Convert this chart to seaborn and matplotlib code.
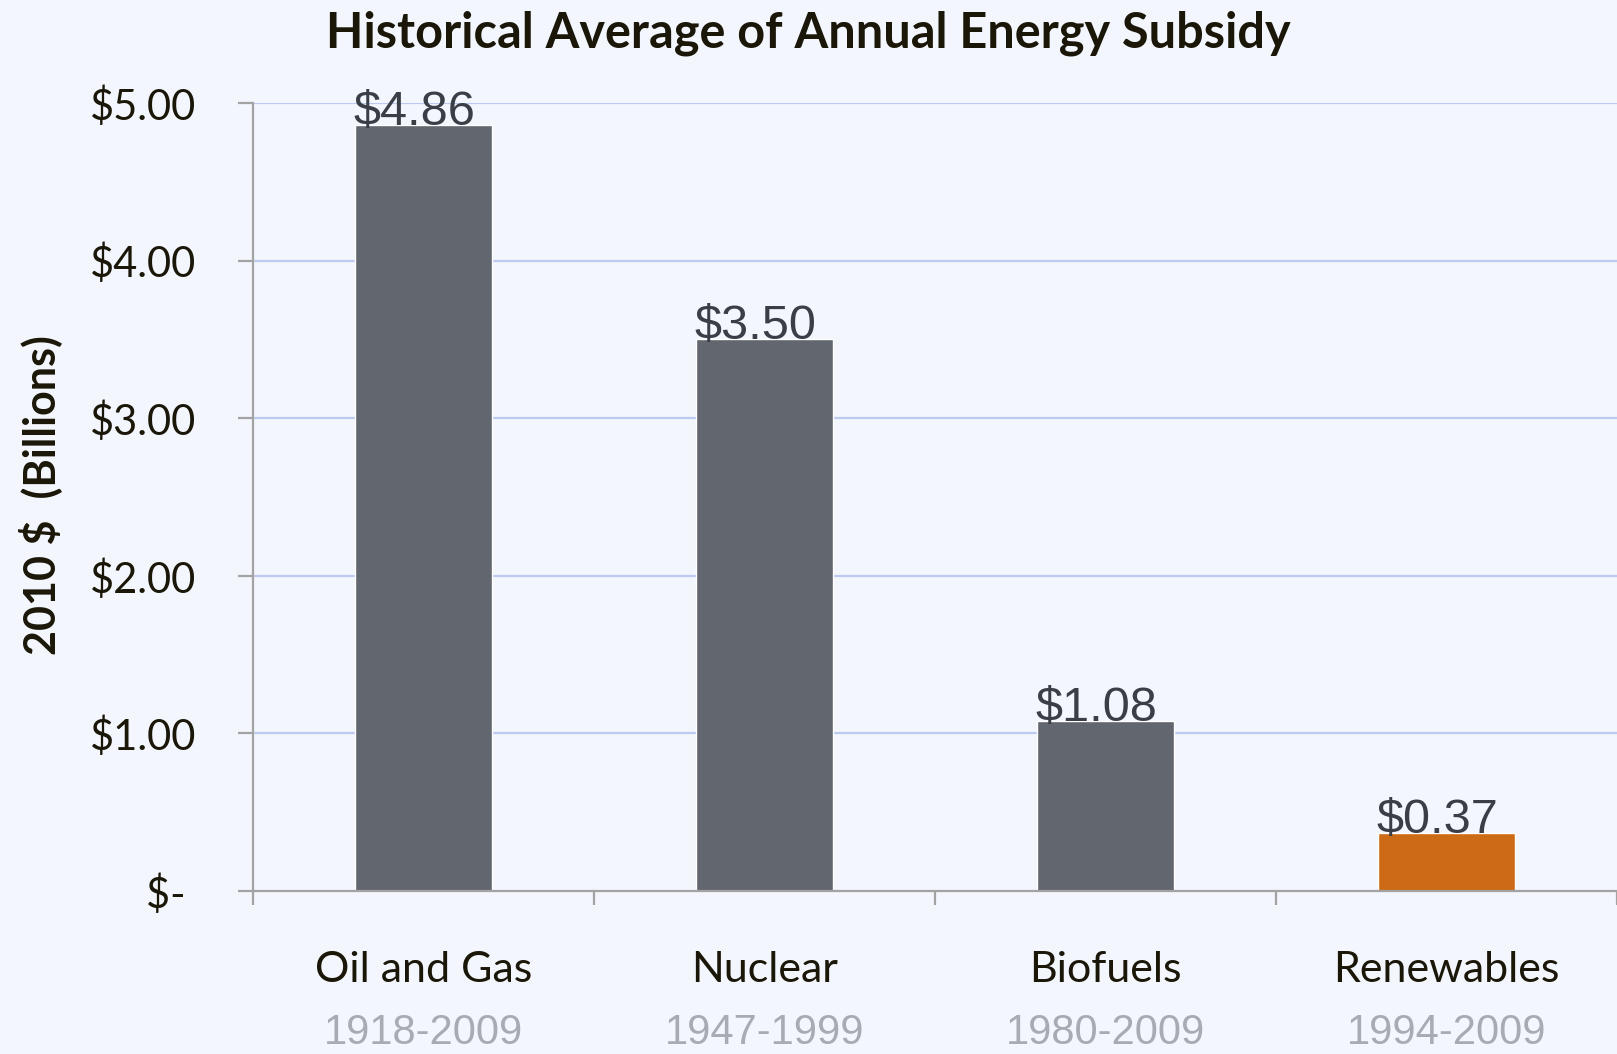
import matplotlib
matplotlib.use("Agg")
import matplotlib.pyplot as plt
import seaborn as sns
import pandas as pd
from matplotlib.ticker import FixedLocator
import matplotlib.transforms as mtransforms

categories = ["Oil and Gas", "Nuclear", "Biofuels", "Renewables"]
periods = ["1918-2009", "1947-1999", "1980-2009", "1994-2009"]
values = [4.86, 3.50, 1.08, 0.37]
value_labels = ["$4.86", "$3.50", "$1.08", "$0.37"]
bar_colors = ["#62666e", "#62666e", "#62666e", "#cc6a16"]
y_ticks = [0, 1, 2, 3, 4, 5]
y_tick_labels = ["$- ", "$1.00", "$2.00", "$3.00", "$4.00", "$5.00"]

sns.set_theme(style="white")
plt.rcParams['font.family'] = ['Lato', 'DejaVu Sans']

bg = "#f3f6fd"
fig = plt.figure(figsize=(16.17, 10.54), dpi=100, facecolor=bg)
ax = fig.add_axes([0.1565, 0.1547, 0.8435, 0.7476])
ax.set_facecolor(bg)

df = pd.DataFrame({"cat": categories, "val": values})
sns.barplot(data=df, x="cat", y="val", hue="cat", palette=bar_colors,
            legend=False, width=0.4, ax=ax, saturation=1, zorder=3)

ax.set_xlim(-0.5, 3.5)
ax.set_ylim(0, 5)

# grid
ax.yaxis.set_major_locator(FixedLocator(y_ticks))
ax.set_yticklabels(y_tick_labels, fontsize=30, color="#1a1608")
for yv in y_ticks[1:]:
    ax.axhline(yv, color="#bccaf2", lw=1.6, zorder=1)

# spines
for s in ["top", "right"]:
    ax.spines[s].set_visible(False)
for s in ["left", "bottom"]:
    ax.spines[s].set_color("#a3a3a3")
    ax.spines[s].set_linewidth(1.6)
    ax.spines[s].set_zorder(4)

ax.tick_params(axis="y", which="major", direction="out", length=11, width=1.6,
               color="#a3a3a3", pad=30, left=True)
ax.xaxis.set_major_locator(FixedLocator(range(len(categories))))
ax.set_xticklabels(categories, fontsize=31, color="#1a1608")
ax.tick_params(axis="x", which="major", length=0, pad=43)
ax.xaxis.set_minor_locator(FixedLocator([-0.5, 0.5, 1.5, 2.5, 3.5]))
ax.tick_params(axis="x", which="minor", direction="out", length=10, width=1.6,
               color="#a3a3a3", bottom=True)

ax.set_xlabel("")
ax.set_ylabel("")

# data labels
for i, (v, lab) in enumerate(zip(values, value_labels)):
    ax.text(i - 0.205, v, lab, ha="left", va="baseline", fontsize=35,
            color="#3a3f47", family=["Liberation Sans", "DejaVu Sans"],
            zorder=5, clip_on=False)

# period labels
trans = mtransforms.blended_transform_factory(ax.transData, fig.transFigure)
for i, p in enumerate(periods):
    ax.text(i, 0.001, p, ha="center", va="bottom", fontsize=30,
            color="#a8abb3", family=["Liberation Sans", "DejaVu Sans"],
            transform=trans, clip_on=False)

fig.text(0.5, 0.968, "Historical Average of Annual Energy Subsidy",
         ha="center", va="center", fontsize=35, fontweight="bold", color="#1a1608")
fig.text(0.0245, 0.530, "2010 $  (Billions)", ha="center", va="center",
         rotation=90, fontsize=31, fontweight="bold", color="#1a1608")

fig.savefig("out.png", dpi=100, facecolor=bg)
